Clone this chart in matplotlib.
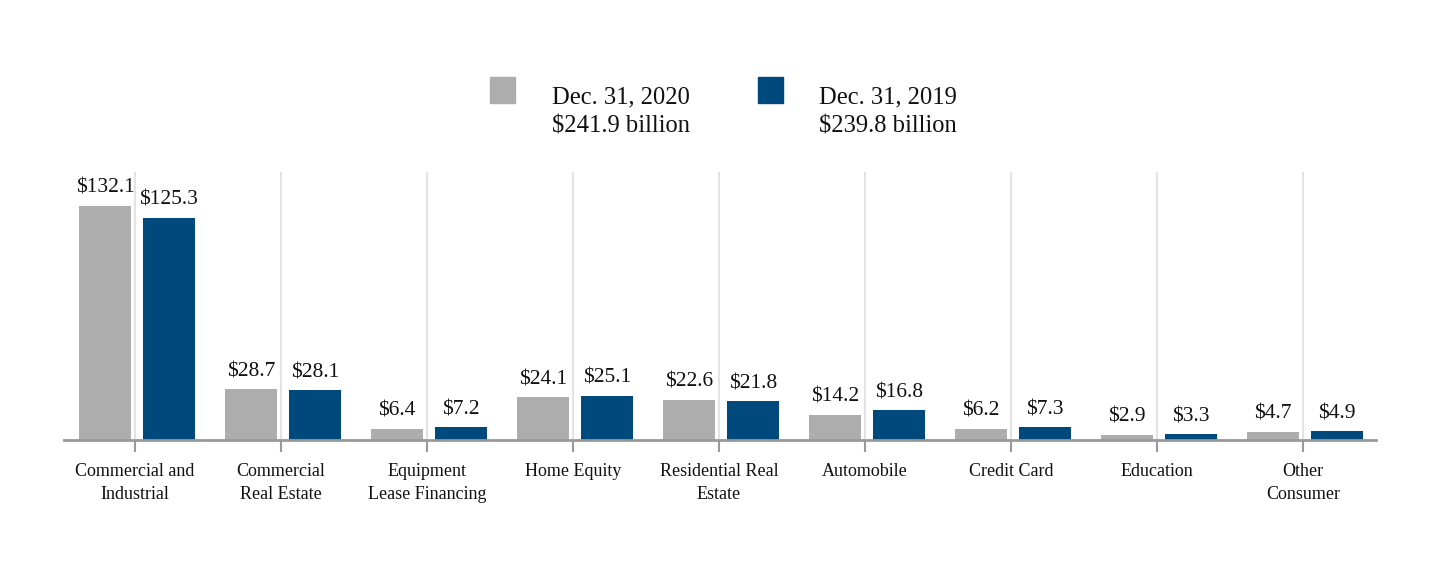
import matplotlib
matplotlib.use("Agg")
import matplotlib.pyplot as plt
from matplotlib.patches import Rectangle
import numpy as np

categories = ["Commercial and\nIndustrial", "Commercial\nReal Estate", "Equipment\nLease Financing",
              "Home Equity", "Residential Real\nEstate", "Automobile", "Credit Card",
              "Education", "Other\nConsumer"]
values_2020 = [132.1, 28.7, 6.4, 24.1, 22.6, 14.2, 6.2, 2.9, 4.7]
values_2019 = [125.3, 28.1, 7.2, 25.1, 21.8, 16.8, 7.3, 3.3, 4.9]
legend_labels = [("Dec. 31, 2020", "$241.9 billion"), ("Dec. 31, 2019", "$239.8 billion")]

GRAY = "#ADADAD"
BLUE = "#00497C"

plt.rcParams['font.family'] = ['Liberation Serif', 'DejaVu Serif']

fig = plt.figure(figsize=(14.4, 5.64), dpi=100)
W, H = 1440, 564
left_px, right_px, bottom_px, top_px = 64, 1376, 440, 172
ax = fig.add_axes([left_px / W, 1 - bottom_px / H, (right_px - left_px) / W, (bottom_px - top_px) / H])

x = np.arange(len(categories))
bw = 52 / 146
b1 = ax.bar(x - 30 / 146, values_2020, width=bw, color=GRAY, zorder=3)
b2 = ax.bar(x + 34 / 146, values_2019, width=bw, color=BLUE, zorder=3)

for bars, vals in ((b1, values_2020), (b2, values_2019)):
    for r, v in zip(bars, vals):
        ax.annotate(f"${v:.1f}", (r.get_x() + r.get_width() / 2, r.get_height()),
                    xytext=(0, 9.4), textcoords="offset points", ha="center", va="baseline",
                    fontsize=15.5, color="#111111")

ax.set_xlim(-0.486, 8.5)
ax.set_ylim(0, 151.3)
ax.set_xticks(x)
ax.set_xticklabels(categories, fontsize=13, linespacing=1.45, color="#111111")
ax.set_yticks([])
ax.grid(axis="x", color="#E3E3E3", linewidth=1.5, zorder=0)
for s in ("left", "right", "top"):
    ax.spines[s].set_visible(False)
ax.spines["bottom"].set_color("#999999")
ax.spines["bottom"].set_linewidth(2)
ax.spines["bottom"].set_zorder(4)
ax.tick_params(axis="x", length=8.6, width=1.5, color="#999999", pad=8)

# legend
sq = [(490, GRAY), (758, BLUE)]
txt_x = [552, 819]
for (sx, col), tx, (l1, l2) in zip(sq, txt_x, legend_labels):
    fig.patches.append(Rectangle((sx / W, 1 - 103 / H), 25 / W, 26 / H, transform=fig.transFigure,
                                 color=col, figure=fig))
    fig.text(tx / W, 1 - 103 / H, l1, fontsize=17.7, va="baseline", ha="left", color="#111111")
    fig.text(tx / W, 1 - 133 / H, l2, fontsize=17.7, va="baseline", ha="left", color="#111111")

fig.savefig("out.png", dpi=100, facecolor="white")
